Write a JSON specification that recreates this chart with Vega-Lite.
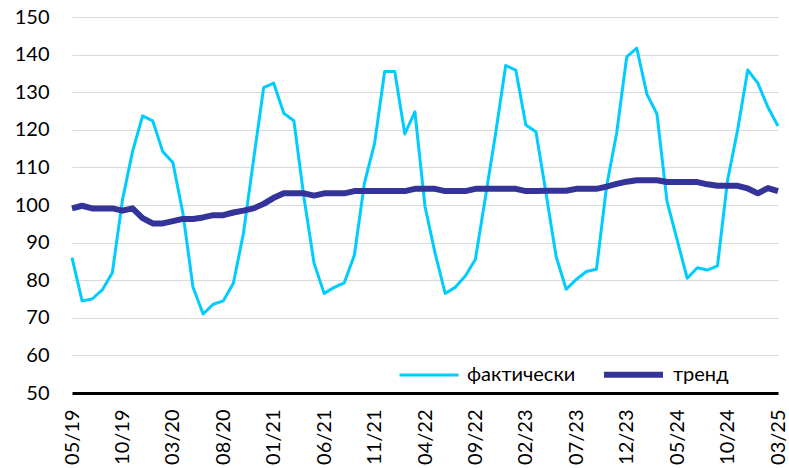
{
  "$schema": "https://vega.github.io/schema/vega-lite/v6.json",
  "width": 706,
  "height": 376,
  "autosize": {"type": "none"},
  "padding": {"left": 72, "top": 17, "right": 11, "bottom": 75},
  "background": "white",
  "config": {
    "view": {"stroke": null},
    "font": "Lato",
    "legend": {
      "orient": "none",
      "legendX": 326,
      "legendY": 325,
      "direction": "horizontal",
      "symbolType": "stroke",
      "symbolSize": 3481,
      "labelFont": "Lato",
      "labelFontSize": 20,
      "labelColor": "#000000",
      "labelOffset": 7,
      "columnPadding": 16,
      "padding": 0,
      "title": null
    }
  },
  "data": {
    "values": [
      {"t":"05/19","фактически":86,"тренд":99.1},
      {"t":"06/19","фактически":74.5,"тренд":99.8},
      {"t":"07/19","фактически":75.0,"тренд":99.1},
      {"t":"08/19","фактически":77.4,"тренд":99.1},
      {"t":"09/19","фактически":82.0,"тренд":99.1},
      {"t":"10/19","фактически":101.3,"тренд":98.5},
      {"t":"11/19","фактически":114.2,"тренд":99.1},
      {"t":"12/19","фактически":123.7,"тренд":96.5},
      {"t":"01/20","фактически":122.4,"тренд":95.1},
      {"t":"02/20","фактически":114.2,"тренд":95.1},
      {"t":"03/20","фактически":111.3,"тренд":95.7},
      {"t":"04/20","фактически":97.8,"тренд":96.3},
      {"t":"05/20","фактически":78.1,"тренд":96.3},
      {"t":"06/20","фактически":71.0,"тренд":96.7},
      {"t":"07/20","фактически":73.6,"тренд":97.3},
      {"t":"08/20","фактически":74.5,"тренд":97.3},
      {"t":"09/20","фактически":79.2,"тренд":98.0},
      {"t":"10/20","фактически":92.5,"тренд":98.5},
      {"t":"11/20","фактически":112.0,"тренд":99.1},
      {"t":"12/20","фактически":131.2,"тренд":100.3},
      {"t":"01/21","фактически":132.4,"тренд":101.9},
      {"t":"02/21","фактически":124.4,"тренд":103.1},
      {"t":"03/21","фактически":122.4,"тренд":103.1},
      {"t":"04/21","фактически":102.0,"тренд":103.1},
      {"t":"05/21","фактически":84.5,"тренд":102.5},
      {"t":"06/21","фактически":76.5,"тренд":103.1},
      {"t":"07/21","фактически":78.1,"тренд":103.1},
      {"t":"08/21","фактически":79.3,"тренд":103.1},
      {"t":"09/21","фактически":86.7,"тренд":103.7},
      {"t":"10/21","фактически":105.9,"тренд":103.7},
      {"t":"11/21","фактически":116.4,"тренд":103.7},
      {"t":"12/21","фактически":135.5,"тренд":103.7},
      {"t":"01/22","фактически":135.5,"тренд":103.7},
      {"t":"02/22","фактически":118.9,"тренд":103.7},
      {"t":"03/22","фактически":124.8,"тренд":104.3},
      {"t":"04/22","фактически":99.6,"тренд":104.3},
      {"t":"05/22","фактически":87.2,"тренд":104.3},
      {"t":"06/22","фактически":76.5,"тренд":103.7},
      {"t":"07/22","фактически":78.1,"тренд":103.7},
      {"t":"08/22","фактически":81.1,"тренд":103.7},
      {"t":"09/22","фактически":85.6,"тренд":104.3},
      {"t":"10/22","фактически":102.2,"тренд":104.3},
      {"t":"11/22","фактически":119.0,"тренд":104.3},
      {"t":"12/22","фактически":137.1,"тренд":104.3},
      {"t":"01/23","фактически":135.9,"тренд":104.3},
      {"t":"02/23","фактически":121.3,"тренд":103.7},
      {"t":"03/23","фактически":119.5,"тренд":103.7},
      {"t":"04/23","фактически":103.1,"тренд":103.8},
      {"t":"05/23","фактически":86.3,"тренд":103.8},
      {"t":"06/23","фактически":77.6,"тренд":103.8},
      {"t":"07/23","фактически":80.2,"тренд":104.3},
      {"t":"08/23","фактически":82.3,"тренд":104.3},
      {"t":"09/23","фактически":82.9,"тренд":104.3},
      {"t":"10/23","фактически":104.9,"тренд":104.9},
      {"t":"11/23","фактически":119.1,"тренд":105.6},
      {"t":"12/23","фактически":139.4,"тренд":106.2},
      {"t":"01/24","фактически":141.7,"тренд":106.6},
      {"t":"02/24","фактически":129.5,"тренд":106.6},
      {"t":"03/24","фактически":124.2,"тренд":106.6},
      {"t":"04/24","фактически":100.9,"тренд":106.1},
      {"t":"05/24","фактически":90.7,"тренд":106.1},
      {"t":"06/24","фактически":80.5,"тренд":106.1},
      {"t":"07/24","фактически":83.3,"тренд":106.1},
      {"t":"08/24","фактически":82.7,"тренд":105.5},
      {"t":"09/24","фактически":83.8,"тренд":105.1},
      {"t":"10/24","фактически":106.6,"тренд":105.1},
      {"t":"11/24","фактически":120.0,"тренд":105.1},
      {"t":"12/24","фактически":135.9,"тренд":104.4},
      {"t":"01/25","фактически":132.4,"тренд":103.1},
      {"t":"02/25","фактически":126.0,"тренд":104.5},
      {"t":"03/25","фактически":121.0,"тренд":103.7}
    ]
  },
  "transform": [{"fold": ["фактически", "тренд"], "as": ["series", "value"]}],
  "mark": {"type": "line", "strokeJoin": "round", "strokeCap": "butt"},
  "encoding": {
    "x": {
      "field": "t",
      "type": "ordinal",
      "sort": null,
      "scale": {"type": "point", "padding": 0},
      "axis": {
        "title": null,
        "values": ["05/19","10/19","03/20","08/20","01/21","06/21","11/21","04/22","09/22","02/23","07/23","12/23","05/24","10/24","03/25"],
        "labelAngle": -90,
        "labelFont": "Lato",
        "labelFontSize": 20,
        "labelColor": "#000000",
        "labelPadding": 16,
        "ticks": false,
        "tickSize": 0,
        "grid": false,
        "domain": true,
        "domainColor": "#000000",
        "domainWidth": 3
      }
    },
    "y": {
      "field": "value",
      "type": "quantitative",
      "scale": {"domain": [50, 150], "nice": false, "zero": false},
      "axis": {
        "title": null,
        "values": [50,60,70,80,90,100,110,120,130,140,150],
        "labelFont": "Lato",
        "labelFontSize": 20,
        "labelColor": "#000000",
        "labelPadding": 23,
        "ticks": false,
        "tickSize": 0,
        "domain": false,
        "grid": true,
        "gridColor": "#D9D9D9",
        "gridWidth": 1
      }
    },
    "color": {
      "field": "series",
      "type": "nominal",
      "scale": {"domain": ["фактически", "тренд"], "range": ["#00CCFF", "#333399"]}
    },
    "strokeWidth": {
      "field": "series",
      "type": "nominal",
      "scale": {"domain": ["фактически", "тренд"], "range": [3, 6]}
    }
  }
}
